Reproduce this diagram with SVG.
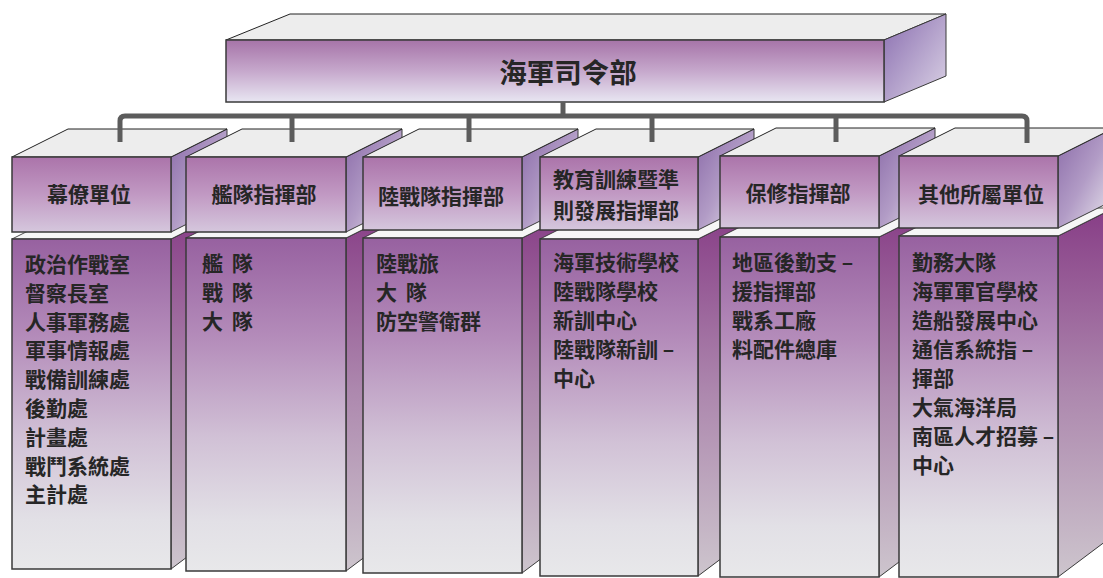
<svg xmlns="http://www.w3.org/2000/svg" width="1103" height="578" viewBox="0 0 1103 578">
<defs>
<linearGradient id="hdrFront" x1="0" y1="0" x2="0" y2="1"><stop offset="0" stop-color="#ab74aa"/><stop offset="0.5" stop-color="#c199c3"/><stop offset="1" stop-color="#d5c7dd"/></linearGradient>
<linearGradient id="hdrSide" x1="0" y1="0" x2="1" y2="1"><stop offset="0" stop-color="#8a6aa8"/><stop offset="0.5" stop-color="#b29cc6"/><stop offset="1" stop-color="#ecebf0"/></linearGradient>
<linearGradient id="bodyFront" x1="0" y1="0" x2="0" y2="1"><stop offset="0" stop-color="#9761a0"/><stop offset="0.3" stop-color="#b48cba"/><stop offset="0.6" stop-color="#d1c1d6"/><stop offset="0.85" stop-color="#e2e0e6"/><stop offset="1" stop-color="#e8e8ea"/></linearGradient>
<linearGradient id="bodySide" x1="0" y1="0" x2="0" y2="1"><stop offset="0" stop-color="#873d86"/><stop offset="0.5" stop-color="#ad88ae"/><stop offset="1" stop-color="#cdc5cd"/></linearGradient>
<linearGradient id="topFront" x1="0" y1="0" x2="0" y2="1"><stop offset="0" stop-color="#a674a8"/><stop offset="0.5" stop-color="#c6a8cc"/><stop offset="1" stop-color="#e8e6f2"/></linearGradient>
<linearGradient id="topSide" x1="0" y1="0" x2="1" y2="1"><stop offset="0" stop-color="#8a6eb0"/><stop offset="1" stop-color="#dcd4e6"/></linearGradient>
</defs>
<style>
.tf{fill:#ededed;stroke:#222;stroke-width:1}
.btf{fill:#f6f6f6;stroke:#222;stroke-width:0.8}
.hf{fill:url(#hdrFront);stroke:#3a3a3a;stroke-width:1.5}
.hs{fill:url(#hdrSide);stroke:#3a3a3a;stroke-width:1}
.bf{fill:url(#bodyFront);stroke:#3a3a3a;stroke-width:1.5}
.bs{fill:url(#bodySide);stroke:#3a3a3a;stroke-width:1}
.lbl{font-family:"Noto Sans CJK TC","Noto Sans CJK SC",sans-serif;font-weight:bold;font-size:21px;fill:#262626}
.hl{text-anchor:middle}
.ws{word-spacing:4px}
.conn{fill:none;stroke:#5c5c5c;stroke-width:5;stroke-linejoin:round}
</style>

<g id="hq">
<polygon class="tf" points="226,40 290,14 946,14 884,40"/>
<polygon points="884,40 946,14 946,76 884,102" fill="url(#topSide)" stroke="#3a3a3a" stroke-width="1"/>
<rect x="226" y="40" width="658" height="62" fill="url(#topFront)" stroke="#3a3a3a" stroke-width="1.5"/>
<text class="lbl hl" x="568" y="83" style="font-size:27.5px">海軍司令部</text>
</g>

<g id="col1">
<polygon class="bs" points="171,239 227,211 227,527 171,569"/>
<polygon class="btf" points="12,239 68,211 227,211 171,239"/>
<rect class="bf" x="12" y="239" width="159" height="330"/>
<polygon class="hs" points="171,157 227,129 227,204 171,232"/>
<polygon class="tf" points="12,157 68,129 227,129 171,157"/>
<rect class="hf" x="12" y="157" width="159" height="75"/>
<text class="lbl hl" x="89" y="202">幕僚單位</text>
<text class="lbl" x="25" y="272">政治作戰室</text>
<text class="lbl" x="25" y="300.8">督察長室</text>
<text class="lbl" x="25" y="329.6">人事軍務處</text>
<text class="lbl" x="25" y="358.4">軍事情報處</text>
<text class="lbl" x="25" y="387.2">戰備訓練處</text>
<text class="lbl" x="25" y="416">後勤處</text>
<text class="lbl" x="25" y="444.8">計畫處</text>
<text class="lbl" x="25" y="473.6">戰鬥系統處</text>
<text class="lbl" x="25" y="502.4">主計處</text>
</g>

<g id="col2">
<polygon class="bs" points="346,238 402,210 402,529 346,571"/>
<polygon class="btf" points="186,238 242,210 402,210 346,238"/>
<rect class="bf" x="186" y="238" width="160" height="333"/>
<polygon class="hs" points="346,157 402,129 402,204 346,232"/>
<polygon class="tf" points="186,157 242,129 402,129 346,157"/>
<rect class="hf" x="186" y="157" width="160" height="75"/>
<text class="lbl hl" x="264" y="202">艦隊指揮部</text>
<text class="lbl ws" x="202" y="271">艦 隊</text>
<text class="lbl ws" x="202" y="300">戰 隊</text>
<text class="lbl ws" x="202" y="329">大 隊</text>
</g>

<g id="col3">
<polygon class="bs" points="522,238 578,210 578,531 522,573"/>
<polygon class="btf" points="363,238 419,210 578,210 522,238"/>
<rect class="bf" x="363" y="238" width="159" height="335"/>
<polygon class="hs" points="522,157 578,129 578,202 522,230"/>
<polygon class="tf" points="363,157 419,129 578,129 522,157"/>
<rect class="hf" x="363" y="157" width="159" height="73"/>
<text class="lbl hl" x="441" y="204">陸戰隊指揮部</text>
<text class="lbl" x="376" y="271">陸戰旅</text>
<text class="lbl ws" x="376" y="300">大 隊</text>
<text class="lbl" x="376" y="329">防空警衛群</text>
</g>

<g id="col4">
<polygon class="bs" points="698,239 754,211 754,534 698,576"/>
<polygon class="btf" points="540,239 596,211 754,211 698,239"/>
<rect class="bf" x="540" y="239" width="158" height="337"/>
<polygon class="hs" points="698,157 754,129 754,202 698,230"/>
<polygon class="tf" points="540,157 596,129 754,129 698,157"/>
<rect class="hf" x="540" y="157" width="158" height="73"/>
<text class="lbl hl" x="616" y="187">教育訓練暨準</text>
<text class="lbl hl" x="616" y="218">則發展指揮部</text>
<text class="lbl" x="553" y="270">海軍技術學校</text>
<text class="lbl" x="553" y="299">陸戰隊學校</text>
<text class="lbl" x="553" y="328">新訓中心</text>
<text class="lbl" x="553" y="357">陸戰隊新訓 –</text>
<text class="lbl" x="553" y="386">中心</text>
</g>

<g id="col5">
<polygon class="bs" points="879,237 935,209 935,535 879,577"/>
<polygon class="btf" points="720,237 776,209 935,209 879,237"/>
<rect class="bf" x="720" y="237" width="159" height="340"/>
<polygon class="hs" points="879,156 935,128 935,200 879,228"/>
<polygon class="tf" points="720,156 776,128 935,128 879,156"/>
<rect class="hf" x="720" y="156" width="159" height="72"/>
<text class="lbl hl" x="798" y="201">保修指揮部</text>
<text class="lbl" x="732" y="270">地區後勤支 –</text>
<text class="lbl" x="732" y="299">援指揮部</text>
<text class="lbl" x="732" y="328">戰系工廠</text>
<text class="lbl" x="732" y="357">料配件總庫</text>
</g>

<g id="col6">
<polygon class="bs" points="1058,236 1114,208 1114,535 1058,577"/>
<polygon class="btf" points="899,236 955,208 1114,208 1058,236"/>
<rect class="bf" x="899" y="236" width="159" height="341"/>
<polygon class="hs" points="1058,156 1114,128 1114,200 1058,228"/>
<polygon class="tf" points="899,156 955,128 1114,128 1058,156"/>
<rect class="hf" x="899" y="156" width="159" height="72"/>
<text class="lbl hl" x="981" y="202">其他所屬單位</text>
<text class="lbl" x="912" y="270">勤務大隊</text>
<text class="lbl" x="912" y="299">海軍軍官學校</text>
<text class="lbl" x="912" y="328">造船發展中心</text>
<text class="lbl" x="912" y="357">通信系統指 –</text>
<text class="lbl" x="912" y="386">揮部</text>
<text class="lbl" x="912" y="415">大氣海洋局</text>
<text class="lbl" x="912" y="444">南區人才招募 –</text>
<text class="lbl" x="912" y="473">中心</text>
</g>

<g id="connectors">
<path class="conn" d="M563,102 V116"/>
<path class="conn" d="M120,142 V121 Q120,116 125,116 H1022 Q1027,116 1027,121 V143"/>
<path class="conn" d="M292,116 V142"/>
<path class="conn" d="M469,116 V142"/>
<path class="conn" d="M652,116 V142"/>
<path class="conn" d="M836,116 V142"/>
</g>
</svg>
